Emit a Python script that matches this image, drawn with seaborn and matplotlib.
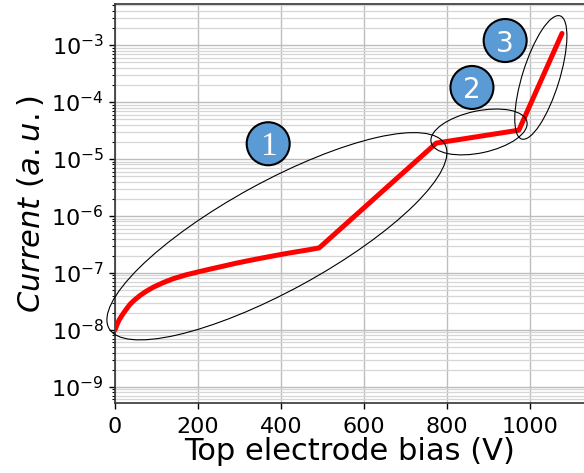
import numpy as np
import pandas as pd
import matplotlib
matplotlib.use("Agg")
from matplotlib import pyplot as plt
from matplotlib.patches import Ellipse, Circle
from matplotlib.transforms import ScaledTranslation
import seaborn as sns

# bias (V) and current (a.u.)
bias = [0, 2, 5, 10, 15, 20, 28, 36, 46, 60, 75, 92, 115, 140, 170, 200, 230, 260,
        290, 320, 350, 380, 405, 430, 450, 470, 492, 774, 973, 1077]
current = [1.0e-8, 1.1e-8, 1.25e-8, 1.5e-8, 1.72e-8, 1.95e-8, 2.35e-8, 2.8e-8, 3.3e-8,
           4.0e-8, 4.75e-8, 5.6e-8, 6.7e-8, 7.9e-8, 9.2e-8, 1.04e-7, 1.17e-7, 1.31e-7,
           1.47e-7, 1.63e-7, 1.8e-7, 1.98e-7, 2.14e-7, 2.3e-7, 2.43e-7, 2.57e-7,
           2.75e-7, 1.9e-5, 3.2e-5, 1.6e-3]

# regions: (center bias, center current, width px, height px, angle deg)
region_x = [390, 877, 1026]
region_y = [4.4e-7, 2.98e-5, 2.7e-4]
region_w = [383, 98, 129]
region_h = [109, 42, 37]
region_ang = [28.7, 12, 72.7]

# numbered markers
label_txt = ["1", "2", "3"]
label_font = ["Liberation Serif", "DejaVu Sans", "DejaVu Sans"]
label_size = [24, 20, 20]
label_x = [369, 860, 940]
label_y = [1.85e-5, 1.8e-4, 1.2e-3]

df = pd.DataFrame({"bias": bias, "current": current})

sns.set_style("white")
plt.rcParams["font.family"] = ["DejaVu Sans"]
plt.rcParams["mathtext.fontset"] = "dejavusans"
for k in ["text.color", "axes.labelcolor", "xtick.color", "ytick.color"]:
    plt.rcParams[k] = "black"

fig = plt.figure(figsize=(5.84, 4.73), dpi=100)
ax = fig.add_axes([0.197, 0.148, 0.803, 0.843])

sns.lineplot(data=df, x="bias", y="current", color="red", lw=3.6, ax=ax, sort=False, zorder=4)
ax.set_yscale("log")
ax.set_xlim(0, 1130)
ax.set_ylim(5.2e-10, 5.2e-3)
ax.set_xticks([0, 200, 400, 600, 800, 1000])

ax.grid(which="major", color="#bdbdbd", lw=1.0)
ax.yaxis.grid(which="minor", color="#d6d6d6", lw=0.9)
ax.tick_params(axis="both", which="major", labelsize=16, length=4, width=1, direction="out",
               left=True, bottom=True, pad=4)
ax.tick_params(axis="x", which="major", pad=6)
ax.tick_params(axis="y", which="minor", length=2.5, width=0.8, left=True)
for s in ["left", "bottom", "top"]:
    ax.spines[s].set_color("#333333")
    ax.spines[s].set_linewidth(1.2)
ax.spines["right"].set_visible(False)

ax.set_xlabel("Top electrode bias (V)", fontsize=22, labelpad=0)
ax.set_ylabel(r"$Current\ (a.u.)$", fontsize=22, labelpad=4)

for cx, cy, w, h, a in zip(region_x, region_y, region_w, region_h, region_ang):
    tr = fig.dpi_scale_trans + ScaledTranslation(cx, cy, ax.transData)
    ax.add_patch(Ellipse((0, 0), w / 100, h / 100, angle=a, transform=tr,
                         fill=False, ec="black", lw=0.8, zorder=5, clip_on=False))

for t, fam, fs, cx, cy in zip(label_txt, label_font, label_size, label_x, label_y):
    tr = fig.dpi_scale_trans + ScaledTranslation(cx, cy, ax.transData)
    ax.add_patch(Circle((0, 0), 0.215, transform=tr, fc="#5b9bd5", ec="black",
                        lw=1.5, zorder=6, clip_on=False))
    ax.text(cx, cy, t, color="white", fontsize=fs, family=fam, ha="center",
            va="center_baseline", zorder=7)

fig.savefig("out.png", dpi=100)
